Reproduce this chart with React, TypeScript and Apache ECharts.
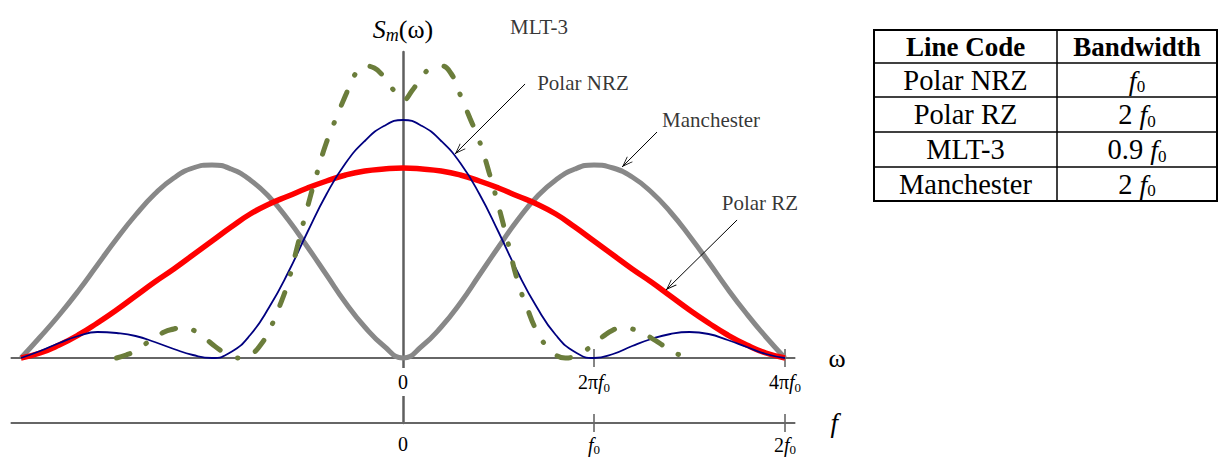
import { useEffect, useRef } from 'react';
import * as echarts from 'echarts';

const SERIF = '"Liberation Serif", "Times New Roman", serif';

// ω axis in units of 2πf0 (0 … 2 ⇒ 0 … 4πf0); values are S_m(ω) in arbitrary units
const uCoarse = [-2.0, -1.9, -1.8, -1.7, -1.6, -1.5, -1.4, -1.3, -1.2, -1.1, -1.0, -0.9, -0.8, -0.7, -0.6, -0.5, -0.4, -0.3, -0.2, -0.1, 0, 0.1, 0.2, 0.3, 0.4, 0.5, 0.6, 0.7, 0.8, 0.9, 1.0, 1.1, 1.2, 1.3, 1.4, 1.5, 1.6, 1.7, 1.8, 1.9, 2.0];
const manchester = [0, 21, 43, 67, 93, 119, 143, 164, 180, 190, 193, 189, 178, 161, 138, 111, 83, 55, 31, 12, 0, 12, 31, 55, 83, 111, 138, 161, 178, 189, 193, 190, 181, 166, 146, 122, 96, 69, 44, 21, 0];
const polarRZ = [0, 5, 13, 23, 35, 48, 62, 76, 89, 103, 117, 131, 144, 154, 162, 170, 177, 183, 187, 189, 190, 189, 187, 183, 177, 170, 162, 154, 144, 131, 117, 103, 89, 76, 62, 48, 35, 23, 13, 5, 0];
const polarNRZ = [0, 7, 15, 22, 26, 25, 22, 16, 9, 3, 0, 6, 23, 51, 86, 126, 164, 195, 217, 232, 238, 232, 217, 195, 164, 126, 86, 51, 23, 6, 0, 4, 12, 19, 24, 26, 24, 18, 11, 4, 0];

const uFine = [-1.5, -1.45, -1.4, -1.35, -1.3, -1.25, -1.2, -1.15, -1.1, -1.05, -1.0, -0.95, -0.9, -0.85, -0.8, -0.75, -0.7, -0.65, -0.6, -0.55, -0.5, -0.45, -0.4, -0.35, -0.3, -0.25, -0.2, -0.15, -0.1, -0.05, 0, 0.05, 0.1, 0.15, 0.2, 0.25, 0.3, 0.35, 0.4, 0.45, 0.5, 0.55, 0.6, 0.65, 0.7, 0.75, 0.8, 0.85, 0.9, 0.95, 1.0, 1.05, 1.1, 1.15, 1.2, 1.25, 1.3, 1.35, 1.4, 1.45, 1.5];
const mlt3 = [0, 3, 7, 14, 20, 26, 29, 31, 28, 22, 14, 7, 2, 0, 3, 12, 28, 50, 77, 114, 151, 185, 216, 240, 263, 284, 292, 290, 281, 268, 258, 268, 282, 290, 292, 285, 263, 240, 217, 186, 152, 115, 77, 50, 27, 12, 3, 0, 2, 7, 14, 22, 28, 31, 29, 26, 20, 14, 7, 3, 0];

const X_MIN = -2.05;
const X_MAX = 2.05;
const Y_MIN = -65;
const Y_MAX = 306;

const omegaTicks = [0, 1, 2];
const omegaTickLabels = ['0', '2π{i|f}{s|0}', '4π{i|f}{s|0}'];
const freqTicks = [0, 1, 2];
const freqTickLabels = ['0', '{i|f}{s|0}', '2{i|f}{s|0}'];

const annotationNames = ['MLT-3', 'Polar NRZ', 'Manchester', 'Polar RZ'];
const annotationLabelPos = [[0.712, 331], [0.942, 275], [1.613, 238], [1.869, 155]];
const arrowFrom = [[0.471, 318], [0.639, 274], [1.33, 226], [1.749, 138]];
const arrowTo = [[0.277, 284], [0.272, 204], [1.147, 191], [1.377, 68]];

const tableHeader = ['Line Code', 'Bandwidth'];
const tableCodes = ['Polar NRZ', 'Polar RZ', 'MLT-3', 'Manchester'];
const tableBandwidths = ['{i|f}{s|0}', '2 {i|f}{s|0}', '0.9 {i|f}{s|0}', '2 {i|f}{s|0}'];

const ARROW = 'path://M5 0L5.02 0L5 0.02Z M5 12L10 24L9 24L5 14.6L1 24L0 24Z';

const pairs = (xs: number[], ys: number[]) => xs.map((x, i) => [x, ys[i]]);

const labelFor = (v: number, ticks: number[], labels: string[]) => {
  const i = ticks.findIndex((t) => Math.abs(t - v) < 1e-6);
  return i >= 0 ? labels[i] : '';
};

const axisRich = {
  i: { fontFamily: SERIF, fontStyle: 'italic', fontSize: 20, lineHeight: 22, color: '#000' },
  s: { fontFamily: SERIF, fontSize: 13, lineHeight: 13, verticalAlign: 'bottom', color: '#000' },
};

const tableRich = {
  i: { fontFamily: SERIF, fontStyle: 'italic', fontSize: 28, lineHeight: 30, color: '#000' },
  s: { fontFamily: SERIF, fontSize: 17, lineHeight: 17, verticalAlign: 'bottom', color: '#000' },
};

function buildTable() {
  const x0 = 874;
  const x1 = 1217;
  const xm = 1057;
  const rows = [30, 63, 97, 132, 167, 201];
  const els: any[] = [];
  els.push({
    type: 'rect', silent: true,
    shape: { x: x0, y: rows[0], width: x1 - x0, height: rows[5] - rows[0] },
    style: { fill: 'transparent', stroke: '#000', lineWidth: 2 },
  });
  for (let r = 1; r < rows.length - 1; r++) {
    els.push({ type: 'line', silent: true, shape: { x1: x0, y1: rows[r], x2: x1, y2: rows[r] }, style: { stroke: '#000', lineWidth: 1.5 } });
  }
  els.push({ type: 'line', silent: true, shape: { x1: xm, y1: rows[0], x2: xm, y2: rows[5] }, style: { stroke: '#000', lineWidth: 1.5 } });
  const cx = [(x0 + xm) / 2, (xm + x1) / 2];
  const cell = (text: string, x: number, y: number, bold: boolean) => ({
    type: 'text', silent: true, x, y,
    style: {
      text, fill: '#000', fontFamily: SERIF, fontSize: bold ? 27 : 28.5, fontWeight: bold ? 'bold' : 'normal',
      lineHeight: 30, align: 'center', verticalAlign: 'middle', textAlign: 'center', textVerticalAlign: 'middle',
      rich: tableRich,
    },
  });
  tableHeader.forEach((h, c) => els.push(cell(h, cx[c], (rows[0] + rows[1]) / 2, true)));
  tableCodes.forEach((code, r) => {
    const cy = (rows[r + 1] + rows[r + 2]) / 2;
    els.push(cell(code, cx[0], cy, false));
    els.push(cell(tableBandwidths[r], cx[1], cy, false));
  });
  return els;
}

export default function App() {
  const ref = useRef<HTMLDivElement>(null);
  useEffect(() => {
    const chart = echarts.init(ref.current!, null, { renderer: 'svg' });
    const option: any = {
      animation: false,
      backgroundColor: '#fff',
      grid: { left: 11.45, top: 52, width: 783.1, height: 371, containLabel: false, outerBoundsMode: 'none' },
      xAxis: [
        {
          type: 'value', min: X_MIN, max: X_MAX, position: 'bottom', offset: Y_MIN, z: 1,
          axisLine: { show: true, onZero: false, lineStyle: { color: '#666', width: 2 } },
          axisTick: { show: false }, splitLine: { show: false },
          axisLabel: {
            show: true, customValues: omegaTicks, margin: 10,
            formatter: (v: number) => labelFor(v, omegaTicks, omegaTickLabels),
            color: '#000', fontFamily: SERIF, fontSize: 20, lineHeight: 24,
            backgroundColor: '#fff', padding: [2, 3, 2, 3], rich: axisRich,
          },
          name: 'ω', nameLocation: 'end', nameGap: 34,
          nameTextStyle: { fontFamily: SERIF, fontSize: 26, color: '#000' },
        },
        {
          type: 'value', min: X_MIN, max: X_MAX, position: 'bottom', z: 1,
          axisLine: { show: true, onZero: false, lineStyle: { color: '#666', width: 2 } },
          axisTick: { show: false }, splitLine: { show: false },
          axisLabel: {
            show: true, customValues: freqTicks, margin: 11,
            formatter: (v: number) => labelFor(v, freqTicks, freqTickLabels),
            color: '#000', fontFamily: SERIF, fontSize: 20, lineHeight: 20, rich: axisRich,
          },
          name: 'f', nameLocation: 'end', nameGap: 36,
          nameTextStyle: { fontFamily: SERIF, fontSize: 27, fontStyle: 'italic', color: '#000' },
        },
      ],
      yAxis: {
        type: 'value', min: Y_MIN, max: Y_MAX, z: 0,
        axisLine: { show: true, onZero: true, lineStyle: { color: '#5f5f5f', width: 2.5 } },
        axisTick: { show: false }, axisLabel: { show: false }, splitLine: { show: false },
        name: '{s|S}{m|m}(ω)', nameLocation: 'end', nameGap: 8,
        nameTextStyle: {
          fontFamily: SERIF, fontSize: 26, lineHeight: 30, color: '#000',
          rich: {
            s: { fontFamily: SERIF, fontStyle: 'italic', fontSize: 26, lineHeight: 30, color: '#000' },
            m: { fontFamily: SERIF, fontStyle: 'italic', fontSize: 18, lineHeight: 18, verticalAlign: 'bottom', color: '#000' },
          },
        },
      },
      series: [
        {
          name: 'Manchester', type: 'line', xAxisIndex: 0, smooth: true, symbol: 'none', silent: true,
          lineStyle: { color: '#888888', width: 5 }, data: pairs(uCoarse, manchester),
        },
        {
          name: 'Polar RZ', type: 'line', xAxisIndex: 0, smooth: true, symbol: 'none', silent: true,
          lineStyle: { color: '#ff0000', width: 5.5 }, data: pairs(uCoarse, polarRZ),
        },
        {
          name: 'Polar NRZ', type: 'line', xAxisIndex: 0, smooth: true, symbol: 'none', silent: true,
          lineStyle: { color: '#000080', width: 1.8 }, data: pairs(uCoarse, polarNRZ),
        },
        {
          name: 'MLT-3', type: 'line', xAxisIndex: 0, smooth: true, symbol: 'none', silent: true,
          lineStyle: { color: '#6b7d3b', width: 5, type: [14, 19, 0.5, 19], cap: 'round' },
          data: pairs(uFine, mlt3),
        },
        {
          name: 'ticks', type: 'scatter', xAxisIndex: 0, silent: true, clip: false,
          symbol: 'rect', symbolSize: [2, 18], itemStyle: { color: '#666' },
          data: [
            ...omegaTicks.filter((t) => t !== 0).map((t) => [t, 0]),
            ...freqTicks.filter((t) => t !== 0).map((t) => [t, Y_MIN]),
          ],
        },
        {
          name: 'annotations', type: 'scatter', xAxisIndex: 0, silent: true, clip: false,
          symbolSize: 1, itemStyle: { color: 'transparent' },
          label: {
            show: true, position: 'inside', formatter: '{b}',
            fontFamily: SERIF, fontSize: 21, color: '#000',
          },
          data: annotationNames.map((n, i) => ({ name: n, value: annotationLabelPos[i] })),
          markLine: {
            silent: true, symbol: ['none', ARROW], symbolSize: [8, 22],
            lineStyle: { color: '#000', width: 1, type: 'solid' },
            label: { show: false },
            data: arrowFrom.map((p, i) => [{ coord: p }, { coord: arrowTo[i] }]),
          },
        },
      ],
      graphic: buildTable(),
    };
    chart.setOption(option);
    return () => chart.dispose();
  }, []);
  return (
    <div
      ref={ref}
      style={{ position: 'absolute', left: 0, top: 0, width: 1222, height: 458, background: '#fff' }}
    />
  );
}
